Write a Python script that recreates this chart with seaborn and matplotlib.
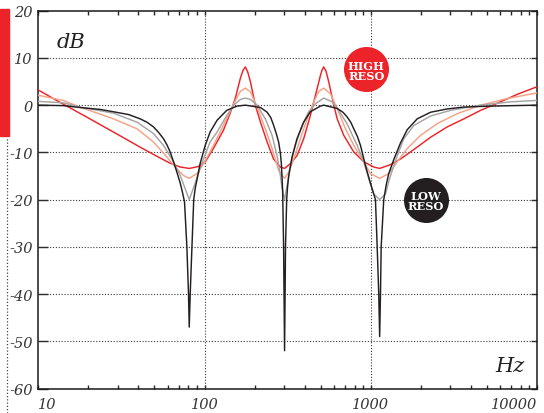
import matplotlib
matplotlib.use("Agg")
import matplotlib.pyplot as plt
from matplotlib.patches import Rectangle
from matplotlib.lines import Line2D
from matplotlib.ticker import FixedLocator, LogLocator, NullFormatter
import seaborn as sns
import pandas as pd

# -----------------------
# Data (Hz, dB)
# -----------------------
black_hz = [10, 14.1, 17.8, 23.5, 28.3, 35.0, 41.0, 45.0, 49.3, 53.0, 56.6, 59.4, 62.1, 65.1, 68.2, 71.4, 73.5,
            75.8, 78.3, 80.1, 80.9, 82.0, 84.0, 86.1, 88.0, 90.4, 94.2, 101, 108, 119, 136, 157, 176, 217, 238,
            250, 260, 270, 279, 286, 290, 295, 299, 303, 307, 312, 316, 321, 336, 360, 395, 433, 498, 521, 628,
            680, 721, 760, 790, 830, 867, 929, 995, 1067, 1093, 1117, 1131, 1144, 1155, 1197, 1240, 1283, 1376,
            1510, 1657, 1903, 2289, 2886, 3633, 5260, 10000]
black_db = [0, -0.1, -0.5, -0.9, -1.4, -2.0, -2.9, -3.6, -4.6, -5.8, -7.1, -8.4, -9.9, -12.0, -14.2, -16.5, -18.3,
            -20.5, -30, -40, -47, -40, -30, -20, -17.5, -15.5, -12.3, -8.5, -5.7, -3.2, -1.1, -0.2, 0, -0.5, -1.5,
            -2.6, -4.2, -6.0, -7.8, -10.2, -12.5, -18, -30, -52, -30, -20, -17.2, -15, -11, -7.1, -3.6, -1.4, -0.2, 0, -0.7,
            -1.5, -2.5, -3.7, -5, -6.6, -8.5, -12.8, -16.5, -20, -30, -40, -49, -40, -30, -20, -16.8, -14.5, -11.5,
            -8, -5.2, -2.9, -1.5, -0.8, -0.4, -0.2, 0]

gray_hz = [10, 14.1, 17.8, 28.3, 39.2, 49.3, 56.6, 65.1, 71.4, 76.5, 80.9, 85.5, 90.4, 98.6, 108, 119, 136,
           150, 164, 176, 189, 207, 232, 255, 273, 286, 293, 303, 314, 328, 352, 386, 423, 465, 521, 586, 642,
           721, 828, 908, 973, 1042, 1131, 1227, 1296, 1442, 1581, 1816, 2289, 3021, 4580, 6945, 10000]
gray_db = [0.8, 0.5, -0.4, -1.7, -3.6, -6.0, -8.5, -12.0, -14.9, -17.7, -20, -17.7, -15.2, -11.4, -7.8, -5.7, -2.2,
           0, 1.2, 1.5, 1.2, 0, -2.9, -6.4, -10.7, -14.9, -17.7, -20, -17, -12.8, -8.5, -4.3, -1.4, 0.3, 1.5, 0.7, -1.1,
           -4.0, -8.5, -12, -15.6, -18.8, -20, -18.8, -15.6, -10.7, -7.1, -4.3, -2.3, -1.1, 0, 0.7, 1.0]

salmon_hz = [10, 14.1, 17.8, 28.3, 39.2, 49.3, 59.4, 68.2, 74.7, 80.9, 90.0, 98.6, 108, 119, 136, 150, 164,
             176, 189, 207, 232, 255, 279, 303, 321, 344, 377, 414, 454, 486, 521, 572, 628, 704, 790, 908,
             995, 1131, 1283, 1442, 1657, 1993, 2512, 3315, 4580, 6633, 10000]
salmon_db = [2.1, 1.0, -0.4, -2.9, -5.0, -7.8, -11.0, -13.5, -14.9, -15.5, -14.5, -12.4, -9.9, -7.0, -2.8, 0.3, 2.9,
             3.6, 2.8, -0.4, -5.0, -9.2, -13.8, -15.5, -14.2, -11.4, -7.1, -2.9, 0.7, 2.9, 3.6, 2.4, -0.7, -5.0, -8.5, -12,
             -14.5, -15.5, -14.5, -12, -9.2, -6.4, -3.9, -1.8, 0, 1.4, 2.6]

red_hz = [10, 13.5, 18.6, 23.5, 31.1, 41.0, 54.1, 62.1, 71.4, 80.9, 91.6, 101, 113, 130, 143, 153, 164, 170,
          176, 182, 189, 202, 217, 238, 260, 286, 303, 328, 360, 395, 433, 465, 498, 509, 521, 538, 559, 599,
          628, 688, 790, 908, 1042, 1131, 1314, 1510, 1816, 2289, 2886, 3633, 4580, 5773, 7617, 10000]
red_db = [3.2, 0.6, -2.1, -4.1, -6.5, -8.9, -11.2, -12.3, -13.1, -13.4, -13.0, -12.0, -9.2, -5.3, -1.6, 1.4, 5.6, 7.3,
          8.1, 7.0, 4.9, 0, -3.6, -7.8, -11.4, -13.1, -13.4, -12.4, -10.7, -7.1, -2.2, 2.1, 6.3, 7.4, 8.1, 7.2, 4.9, 0,
          -2.9, -6.4, -9.9, -12, -13.1, -13.4, -12.6, -11.4, -9.4, -6.8, -4.6, -2.9, -1.1, 0.4, 2.3, 3.9]

curve_names = ["red", "salmon", "gray", "black"]
curve_colors = {"red": "#ec2329", "salmon": "#f5a286", "gray": "#a4a4a4", "black": "#231f20"}

y_ticks = [-60, -50, -40, -30, -20, -10, 0, 10, 20]
x_ticks = [10, 100, 1000, 10000]
x_tick_labels = ["10", "100", "1000", "10000"]

# build one long table for seaborn
frames = []
for name, hz, db in [("black", black_hz, black_db), ("gray", gray_hz, gray_db),
                     ("salmon", salmon_hz, salmon_db), ("red", red_hz, red_db)]:
    frames.append(pd.DataFrame({"hz": hz, "db": db, "curve": name}))
df = pd.concat(frames, ignore_index=True)

# -----------------------
# Style
# -----------------------
sns.set_style("white")
plt.rcParams["font.family"] = ["DejaVu Serif", "DejaVu Sans"]
plt.rcParams["axes.unicode_minus"] = False

W, H = 544, 414
fig = plt.figure(figsize=(W / 100, H / 100), dpi=100)
ax = fig.add_axes([38.3 / W, 1 - 389.5 / H, (537 - 38.3) / W, (389.5 - 11.7) / H])

ax.set_xscale("log")
ax.set_xlim(10, 10000)
ax.set_ylim(-60, 20)

# dotted grid
grid_kw = dict(color="#3a3a3a", linewidth=0.8, linestyle=(0, (1, 1.6)), zorder=1)
for gx in [100, 1000]:
    ax.axvline(gx, **grid_kw)
for gy in y_ticks[1:-1]:
    ax.axhline(gy, **grid_kw)

# curves, red drawn first so the black sits on top
for name in curve_names:
    sns.lineplot(data=df[df["curve"] == name], x="hz", y="db", color=curve_colors[name],
                 linewidth=1.05, ax=ax, zorder=3, sort=False)

ax.set_xlabel("")
ax.set_ylabel("")

# ticks
ax.yaxis.set_major_locator(FixedLocator(y_ticks))
ax.set_yticklabels([str(v) for v in y_ticks])
ax.xaxis.set_major_locator(FixedLocator(x_ticks))
ax.xaxis.set_minor_locator(LogLocator(base=10, subs=range(2, 10)))
ax.xaxis.set_minor_formatter(NullFormatter())
ax.set_xticklabels(x_tick_labels)

ax.tick_params(axis="y", which="major", direction="in", length=7, width=1, left=True, right=True,
               labelsize=10.5, labelcolor="#333333", pad=4)
ax.tick_params(axis="x", which="both", direction="in", length=3, width=1, bottom=True, top=True,
               labelsize=10.5, labelcolor="#333333", pad=6)
for t in ax.yaxis.get_major_ticks():
    t.tick2line.set_markersize(4)
for lab in ax.get_xticklabels() + ax.get_yticklabels():
    lab.set_fontstyle("italic")
xl = ax.get_xticklabels()
xl[0].set_horizontalalignment("left")
xl[-1].set_horizontalalignment("right")

for s in ax.spines.values():
    s.set_color("#1a1a1a")
    s.set_linewidth(1.1)

# axis words
ax.text(0.037, 0.904, "dB", transform=ax.transAxes, fontsize=15, fontstyle="italic",
        color="#222222", va="baseline", ha="left")
ax.text(0.916, 0.046, "Hz", transform=ax.transAxes, fontsize=15, fontstyle="italic",
        color="#222222", va="baseline", ha="left")

# resonance badges
ax.scatter([940], [7.6], s=1050, color="#ec2329", zorder=5, linewidths=0)
ax.text(940, 7.4, "HIGH\nRESO", ha="center", va="center", color="white", fontsize=8.2,
        fontweight="bold", linespacing=0.92, zorder=6)
ax.scatter([2150], [-20], s=1050, color="#231f20", zorder=5, linewidths=0)
ax.text(2150, -20.2, "LOW\nRESO", ha="center", va="center", color="white", fontsize=8.2,
        fontweight="bold", linespacing=0.92, zorder=6)

# red tab and dotted rule on the left edge
fig.patches.append(Rectangle((0, 1 - 137 / H), 9 / W, 127 / H, transform=fig.transFigure,
                             color="#ec2329", zorder=0))
fig.add_artist(Line2D([7 / W, 7 / W], [0, 1 - 139 / H], transform=fig.transFigure,
                      color="#444444", linewidth=0.9, linestyle=(0, (1, 1.6))))

fig.savefig("out.png", dpi=100)
